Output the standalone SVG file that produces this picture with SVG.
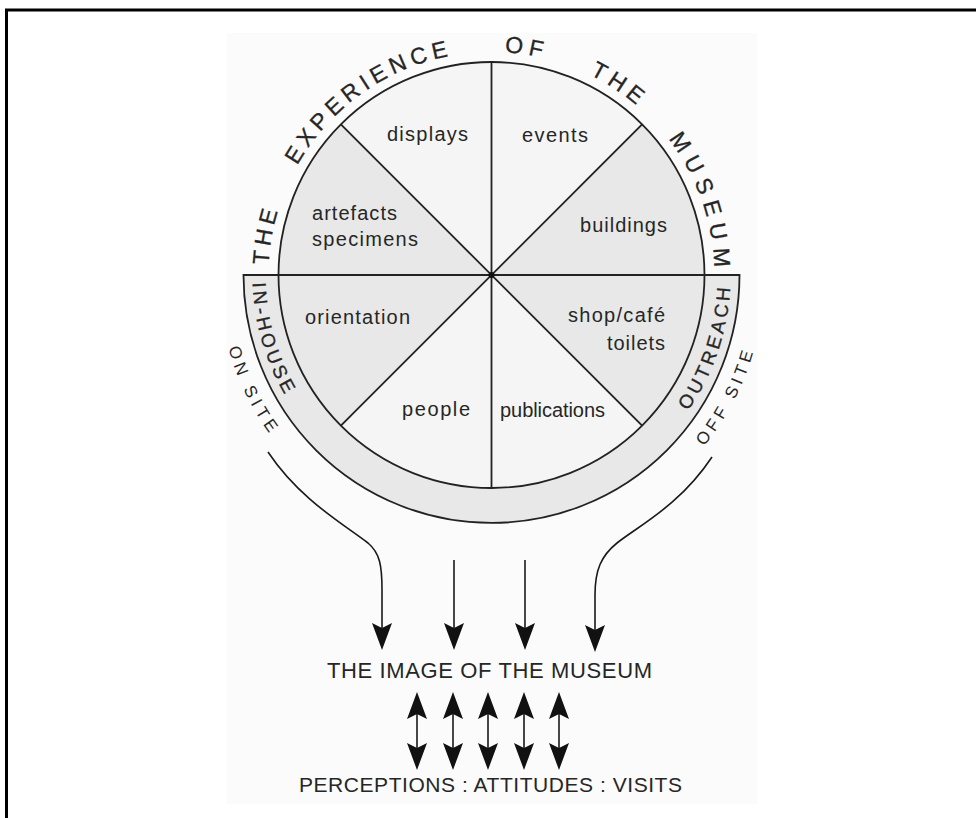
<svg xmlns="http://www.w3.org/2000/svg" xmlns:xlink="http://www.w3.org/1999/xlink" width="976" height="818" viewBox="0 0 976 818">
<defs>
<style>
.t{font-family:"Liberation Sans",Arial,Helvetica,sans-serif;fill:#262626}
.lab{font-size:20px}
.arc{font-size:23px;stroke:#262626;stroke-width:0.3}
.band{font-size:19px;stroke:#262626;stroke-width:0.3}
.side{font-size:17px}
.ln{stroke:#222;stroke-width:1.8;fill:none}
.cl{stroke:#1a1a1a;stroke-width:1.6;fill:none}
.sh{fill:#e8e8e8}
.lt{fill:#f5f5f5}
.ah{fill:#111}
</style>
<path id="topArc" d="M268.5,275 A223,223 0 0 1 714.5,275"/>
<path id="bandArc" d="M252.5,275 A239,239 0 0 0 730.5,275"/>
<path id="outArc" d="M218.5,275 A273,273 0 0 0 764.5,275"/>
<path id="ahd" d="M-10,-27 L0,0 L10,-27 L0,-22 Z"/>
<path id="ahu" d="M-10,27 L0,0 L10,27 L0,22 Z"/>
</defs>

<rect x="0" y="0" width="976" height="818" fill="#fff"/>
<rect x="6.5" y="10" width="1000" height="1000" fill="none" stroke="#000" stroke-width="3"/>
<rect x="227" y="33" width="530" height="771" fill="#fbfbfb"/>

<g id="band">
<path d="M243.5,275 A248,248 0 0 0 739.5,275 Z" class="sh" stroke="#222" stroke-width="1.8"/>
<text class="t band" style="letter-spacing:3.5px"><textPath xlink:href="#bandArc" href="#bandArc" startOffset="7.8">IN-HOUSE</textPath></text>
<text class="t band" style="letter-spacing:3.6px"><textPath xlink:href="#bandArc" href="#bandArc" startOffset="605.7">OUTREACH</textPath></text>
</g>

<g id="wheel">
<circle cx="491.5" cy="275" r="213" class="lt"/>
</g>

<g id="node-artefacts">
<path class="sh" d="M491.5,275 L278.5,275 A213,213 0 0 1 340.9,124.4 Z"/>
<text class="t lab" x="312" y="220" textLength="85" lengthAdjust="spacing">artefacts</text>
<text class="t lab" x="312" y="246" textLength="106" lengthAdjust="spacing">specimens</text>
</g>
<g id="node-displays">
<text class="t lab" x="387" y="141" textLength="81" lengthAdjust="spacing">displays</text>
</g>
<g id="node-events">
<text class="t lab" x="522" y="142" textLength="66" lengthAdjust="spacing">events</text>
</g>
<g id="node-buildings">
<path class="sh" d="M491.5,275 L642.1,124.4 A213,213 0 0 1 704.5,275 Z"/>
<text class="t lab" x="580" y="232" textLength="87" lengthAdjust="spacing">buildings</text>
</g>
<g id="node-shop">
<path class="sh" d="M491.5,275 L704.5,275 A213,213 0 0 1 642.1,425.6 Z"/>
<text class="t lab" x="568" y="322" textLength="97" lengthAdjust="spacing">shop/café</text>
<text class="t lab" x="607" y="350" textLength="58" lengthAdjust="spacing">toilets</text>
</g>
<g id="node-publications">
<text class="t lab" x="500" y="417" textLength="105" lengthAdjust="spacing">publications</text>
</g>
<g id="node-people">
<text class="t lab" x="402" y="416" textLength="68" lengthAdjust="spacing">people</text>
</g>
<g id="node-orientation">
<path class="sh" d="M491.5,275 L340.9,425.6 A213,213 0 0 1 278.5,275 Z"/>
<text class="t lab" x="305" y="324" textLength="105" lengthAdjust="spacing">orientation</text>
</g>

<g id="wheel-lines">
<circle cx="491.5" cy="275" r="213" class="ln"/>
<line class="ln" x1="243.5" y1="275" x2="739.5" y2="275"/>
<line class="ln" x1="491.5" y1="62" x2="491.5" y2="488"/>
<line class="ln" x1="340.9" y1="124.4" x2="642.1" y2="425.6"/>
<line class="ln" x1="642.1" y1="124.4" x2="340.9" y2="425.6"/>
<circle cx="491.5" cy="275" r="3" fill="#111"/>
</g>

<g id="title-arc">
<text class="t arc" style="letter-spacing:4.3px"><textPath xlink:href="#topArc" href="#topArc" startOffset="10">THE</textPath></text>
<text class="t arc" style="letter-spacing:4.9px"><textPath xlink:href="#topArc" href="#topArc" startOffset="114.3">EXPERIENCE</textPath></text>
<text class="t arc" style="letter-spacing:5.6px"><textPath xlink:href="#topArc" href="#topArc" startOffset="363.1">OF</textPath></text>
<text class="t arc" style="letter-spacing:5.1px"><textPath xlink:href="#topArc" href="#topArc" startOffset="451.4">THE</textPath></text>
<text class="t arc" style="letter-spacing:7.3px"><textPath xlink:href="#topArc" href="#topArc" startOffset="553.8">MUSEUM</textPath></text>
</g>

<g id="side-labels">
<text class="t side" style="letter-spacing:4.5px"><textPath xlink:href="#outArc" href="#outArc" startOffset="73.9">ON SITE</textPath></text>
<text class="t side" style="letter-spacing:4.3px"><textPath xlink:href="#outArc" href="#outArc" startOffset="671.9">OFF SITE</textPath></text>
</g>

<g id="node-image">
<text class="t" style="font-size:22px" x="327" y="678" textLength="325" lengthAdjust="spacing">THE IMAGE OF THE MUSEUM</text>
</g>
<g id="node-perceptions">
<text class="t" style="font-size:21px" x="299" y="792" textLength="383" lengthAdjust="spacing">PERCEPTIONS : ATTITUDES : VISITS</text>
</g>

<g id="connectors">
<path class="cl" d="M268,452 C300,500 345,525 368,543 C380,553 382,566 382,590 L382,628"/>
<line class="cl" x1="454" y1="560" x2="454" y2="628"/>
<line class="cl" x1="525" y1="560" x2="525" y2="628"/>
<path class="cl" d="M712,457 C680,505 640,525 617,543 C601,556 595,570 595,595 L595,630"/>
<use href="#ahd" xlink:href="#ahd" class="ah" x="382" y="650"/>
<use href="#ahd" xlink:href="#ahd" class="ah" x="454" y="650"/>
<use href="#ahd" xlink:href="#ahd" class="ah" x="525" y="650"/>
<use href="#ahd" xlink:href="#ahd" class="ah" x="595" y="652"/>
<line class="cl" x1="417" y1="710" x2="417" y2="752"/>
<line class="cl" x1="453" y1="710" x2="453" y2="752"/>
<line class="cl" x1="488" y1="710" x2="488" y2="752"/>
<line class="cl" x1="524" y1="710" x2="524" y2="752"/>
<line class="cl" x1="559" y1="710" x2="559" y2="752"/>
<use href="#ahu" xlink:href="#ahu" class="ah" x="417" y="692"/>
<use href="#ahu" xlink:href="#ahu" class="ah" x="453" y="692"/>
<use href="#ahu" xlink:href="#ahu" class="ah" x="488" y="692"/>
<use href="#ahu" xlink:href="#ahu" class="ah" x="524" y="692"/>
<use href="#ahu" xlink:href="#ahu" class="ah" x="559" y="692"/>
<use href="#ahd" xlink:href="#ahd" class="ah" x="417" y="770"/>
<use href="#ahd" xlink:href="#ahd" class="ah" x="453" y="770"/>
<use href="#ahd" xlink:href="#ahd" class="ah" x="488" y="770"/>
<use href="#ahd" xlink:href="#ahd" class="ah" x="524" y="770"/>
<use href="#ahd" xlink:href="#ahd" class="ah" x="559" y="770"/>
</g>
</svg>
